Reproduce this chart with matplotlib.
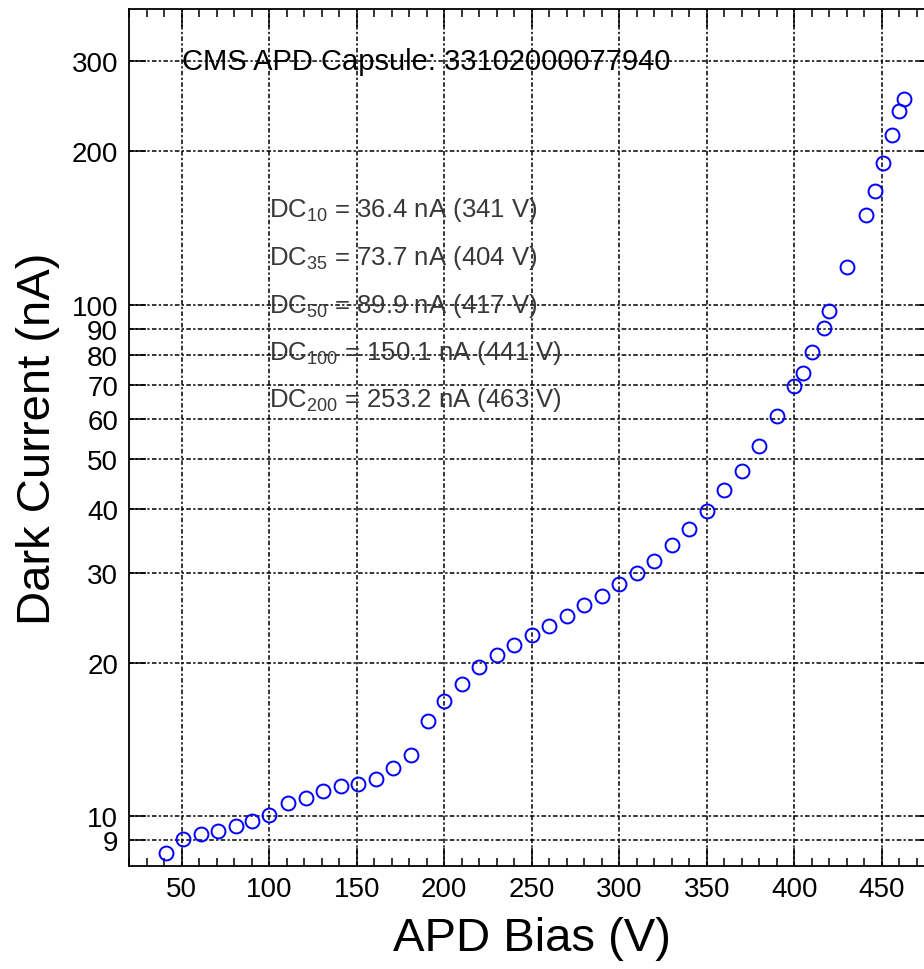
import matplotlib
matplotlib.use('Agg')
import matplotlib.pyplot as plt
from matplotlib.ticker import FixedLocator, MultipleLocator, NullLocator, FixedFormatter

# APD bias (V) and measured dark current (nA)
bias = [41, 51, 61, 71, 81, 90, 100, 111, 121, 131, 141, 151, 161, 171, 181,
        191, 200, 210, 220, 230, 240, 250, 260, 270, 280, 290, 300, 310, 320,
        330, 340, 350, 360, 370, 380, 390, 400, 405, 410, 417, 420, 430, 441,
        446, 451, 456, 460, 463]
dark_current = [8.49, 9.02, 9.22, 9.38, 9.58, 9.78, 10.08, 10.62, 10.88, 11.21,
                11.45, 11.60, 11.85, 12.45, 13.17, 15.35, 16.80, 18.19, 19.62,
                20.67, 21.62, 22.62, 23.60, 24.64, 25.90, 26.97, 28.56, 30.01,
                31.58, 33.9, 36.43, 39.54, 43.46, 47.5, 53.14, 60.73, 69.65,
                73.73, 81.2, 90.2, 97.7, 118.8, 150.3, 167.1, 189.8, 215.7,
                240.3, 253.7]

ytick_vals = [9, 10, 20, 30, 40, 50, 60, 70, 80, 90, 100, 200, 300]
xtick_vals = [50, 100, 150, 200, 250, 300, 350, 400, 450]

# gain points summary
dc_levels = ['10', '35', '50', '100', '200']
dc_current = [36.4, 73.7, 89.9, 150.1, 253.2]
dc_bias = [341, 404, 417, 441, 463]
capsule_id = '33102000077940'

plt.rcParams['font.family'] = ['Liberation Sans', 'DejaVu Sans']
plt.rcParams['mathtext.fontset'] = 'custom'
plt.rcParams['mathtext.rm'] = 'Liberation Sans'
plt.rcParams['mathtext.it'] = 'Liberation Sans:italic'

fig = plt.figure(figsize=(9.24, 9.70), dpi=100)
# axes runs past the right edge of the picture, like the cropped original
ax = fig.add_axes([129.2 / 924, 103 / 970, 805 / 924, 857 / 970])

ax.plot(bias, dark_current, 'o', mfc='none', mec='blue', ms=10, mew=1.4,
        zorder=3)

ax.set_yscale('log')
ax.set_xlim(20, 480)
ax.set_ylim(8, 380)

ax.yaxis.set_major_locator(FixedLocator(ytick_vals))
ax.yaxis.set_major_formatter(FixedFormatter([str(v) for v in ytick_vals]))
ax.yaxis.set_minor_locator(NullLocator())
ax.xaxis.set_major_locator(FixedLocator(xtick_vals))
ax.xaxis.set_minor_locator(MultipleLocator(10))

ax.tick_params(which='both', direction='in', top=True, right=True,
               labelsize=20, width=1.1, color='black')
ax.tick_params(axis='x', which='major', length=13, pad=7)
ax.tick_params(axis='x', which='minor', length=6)
ax.tick_params(axis='y', which='major', length=12, pad=8)

for sp in ax.spines.values():
    sp.set_linewidth(1.3)

ax.grid(True, which='major', color='black', linestyle=(0, (3, 1.5, 1.5, 1.5)),
        linewidth=1.1)

ax.set_xlabel('APD Bias (V)', fontsize=34)
ax.set_ylabel('Dark Current (nA)', fontsize=34)
ax.xaxis.set_label_coords(0.5, -0.058)
ax.yaxis.set_label_coords(-0.086, 0.5)

ax.text(50, 300, 'CMS APD Capsule: ' + capsule_id, fontsize=21,
        va='center', ha='left', color='black')

line_y = [0.7588, 0.7025, 0.6464, 0.5916, 0.5367]
trans = ax.get_xaxis_transform()
for lvl, cur, v, yy in zip(dc_levels, dc_current, dc_bias, line_y):
    ax.text(100, yy, r'DC$_\mathrm{%s}$ = %.1f nA (%d V)' % (lvl, cur, v),
            transform=trans, fontsize=18.5, color='#383838',
            ha='left', va='baseline')

fig.savefig('out.png', dpi=100)
